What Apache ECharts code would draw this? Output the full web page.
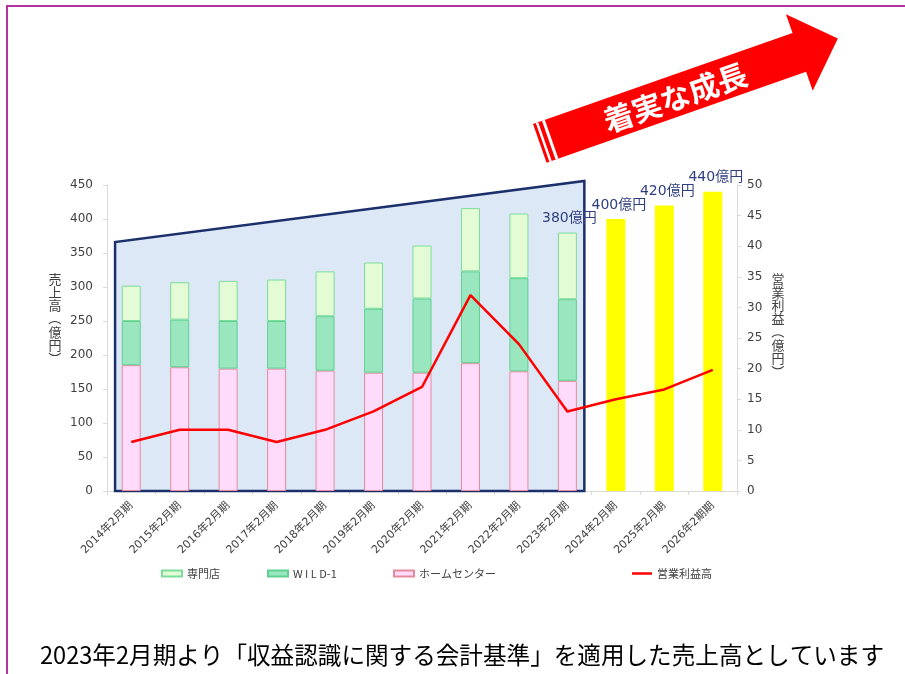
<!DOCTYPE html>
<html>
<head>
<meta charset="utf-8">
<script src="https://cdn.jsdelivr.net/npm/echarts@6/dist/echarts.min.js"></script>
<style>
  html, body { margin: 0; padding: 0; background: #fff; }
  #main { width: 905px; height: 674px; }
</style>
</head>
<body>
<div id="main"></div>
<script>
// 期
var categories = ['2014年2月期', '2015年2月期', '2016年2月期', '2017年2月期', '2018年2月期',
  '2019年2月期', '2020年2月期', '2021年2月期', '2022年2月期', '2023年2月期',
  '2024年2月期', '2025年2月期', '2026年2期期'];
// 売上高 内訳（億円）
var homeCenter = [185, 182, 180, 180, 177, 174, 174, 188, 176, 162, '-', '-', '-'];
var wild1 = [65, 70, 70, 70, 80, 94, 109, 135, 137, 120, '-', '-', '-'];
var senmon = [52, 55, 59, 61, 66, 68, 78, 93, 95, 98, '-', '-', '-'];
// 計画
var forecast = ['-', '-', '-', '-', '-', '-', '-', '-', '-', '-', 400, 420, 440];
// 営業利益（億円）
var profit = [8, 10, 10, 8, 10, 13, 17, 32, 24, 13, 15, 16.6, 19.8];
var leftTicks = { min: 0, max: 450, interval: 50 };
var rightTicks = { min: 0, max: 50, interval: 5 };
var lastActual = 9; // 2023年2月期
// 背景の台形（売上高の値）
var bandLeftValue = 366;
var bandRightValue = 456;

var chart = echarts.init(document.getElementById('main'));
var numFont = '"DejaVu Sans", "Noto Sans CJK JP", sans-serif';
var jpFont = '"Noto Sans CJK JP", sans-serif';
var txtColor = '#404040';
var labelColor = '#2f3e7e';

var senmonData = senmon.map(function (v, i) {
  if (i !== lastActual) return v;
  return {
    value: v,
    label: {
      show: true, position: 'top', distance: 7, offset: [2, 0],
      color: labelColor, fontSize: 14, fontFamily: numFont,
      formatter: function (p) {
        var i = p.dataIndex;
        return (homeCenter[i] + wild1[i] + senmon[i]) + '億円';
      }
    }
  };
});

function legendAt(name, left, h) {
  return {
    data: [{ name: name, icon: 'rect' }], left: left, top: 563,
    itemWidth: 20, itemHeight: h, itemGap: 4,
    textStyle: { fontSize: 11, color: txtColor, fontFamily: jpFont }
  };
}

var axisGray = '#d9d9d9';

chart.setOption({
  animation: false,
  grid: { left: 107, right: 168, top: 185, bottom: 183 },
  legend: [
    legendAt('専門店', 156, 6),
    legendAt('W I L D-1', 262, 6),
    legendAt('ホームセンター', 388, 6),
    legendAt('営業利益高', 627, 2.5)
  ],
  xAxis: {
    type: 'category',
    data: categories,
    axisLine: { lineStyle: { color: axisGray, width: 1 } },
    axisTick: { show: true, length: 4, lineStyle: { color: axisGray } },
    axisLabel: { rotate: 45, interval: 0, fontSize: 11, color: txtColor, fontFamily: numFont, margin: 13 }
  },
  yAxis: [{
    type: 'value',
    min: leftTicks.min, max: leftTicks.max, interval: leftTicks.interval,
    splitLine: { show: false },
    axisLine: { show: true, lineStyle: { color: axisGray } },
    axisTick: { show: true, length: 4, lineStyle: { color: axisGray } },
    axisLabel: { fontSize: 12, color: txtColor, fontFamily: numFont, margin: 14 }
  }, {
    type: 'value',
    min: rightTicks.min, max: rightTicks.max, interval: rightTicks.interval,
    splitLine: { show: false },
    axisLine: { show: true, lineStyle: { color: axisGray } },
    axisTick: { show: true, length: 4, lineStyle: { color: axisGray } },
    axisLabel: { fontSize: 12, color: txtColor, fontFamily: numFont, margin: 10 }
  }],
  series: [{
    name: 'ホームセンター', type: 'bar', stack: 'sales', barWidth: 19, z: 3,
    data: homeCenter,
    itemStyle: { color: '#ffdbfb', borderColor: '#e58a9c', borderWidth: 1 }
  }, {
    name: 'W I L D-1', type: 'bar', stack: 'sales', z: 3,
    data: wild1,
    itemStyle: { color: '#9ae6bf', borderColor: '#5fd08f', borderWidth: 1 }
  }, {
    name: '専門店', type: 'bar', stack: 'sales', z: 3,
    data: senmonData,
    itemStyle: { color: '#e3fcd5', borderColor: '#7bdc9b', borderWidth: 1 }
  }, {
    name: '計画', type: 'bar', stack: 'sales', z: 3,
    data: forecast,
    itemStyle: { color: '#ffff00' },
    label: {
      show: true, position: 'top', distance: 7, offset: [3, 0],
      color: labelColor, fontSize: 14, fontFamily: numFont,
      formatter: '{c}億円'
    }
  }, {
    name: '営業利益高', type: 'line', yAxisIndex: 1, z: 5,
    data: profit,
    symbol: 'none',
    lineStyle: { color: '#ff0000', width: 2.5 },
    itemStyle: { color: '#ff0000' }
  }]
});

// 背景の台形とその他の装飾
var cat0 = chart.convertToPixel({ xAxisIndex: 0, yAxisIndex: 0 }, [0, 0]);
var cat1 = chart.convertToPixel({ xAxisIndex: 0, yAxisIndex: 0 }, [1, 0]);
var catW = cat1[0] - cat0[0];
var pLeftTop = chart.convertToPixel({ xAxisIndex: 0, yAxisIndex: 0 }, [0, bandLeftValue]);
var pRightTop = chart.convertToPixel({ xAxisIndex: 0, yAxisIndex: 0 }, [lastActual, bandRightValue]);
var xL = cat0[0] - catW / 3;
var xR = pRightTop[0] + catW * 0.35;
var yB = cat0[1];

// 縦書きの軸名（1文字ずつ、括弧は回転）
function vText(str, x, top, step) {
  var children = str.split('').map(function (ch, k) {
    var paren = ch === '（' || ch === '）';
    return {
      type: 'text', x: 0, y: k * step + step / 2,
      rotation: paren ? -Math.PI / 2 : 0,
      style: {
        text: ch, fill: txtColor, font: '13px "Noto Sans CJK JP"',
        align: 'center', verticalAlign: 'middle', textAlign: 'center', textVerticalAlign: 'middle'
      }
    };
  });
  return { type: 'group', x: x, y: top, z: 10, children: children };
}

chart.setOption({
  graphic: [{
    type: 'polygon', z: 1,
    shape: { points: [[xL, yB], [xL, pLeftTop[1]], [xR, pRightTop[1]], [xR, yB]] },
    style: { fill: '#dde8f7', stroke: '#1b2f6b', lineWidth: 2.5 }
  }, {
    type: 'line', z: 10,
    shape: { x1: 7, y1: 6, x2: 905, y2: 6 },
    style: { stroke: '#b5339f', lineWidth: 2 }
  }, {
    type: 'line', z: 10,
    shape: { x1: 7, y1: 5, x2: 7, y2: 674 },
    style: { stroke: '#b5339f', lineWidth: 2 }
  },
  vText('売上高（億円）', 55, 272, 13.3),
  vText('営業利益（億円）', 778, 272, 13.3),
  {
    type: 'group', x: 533, y: 124, rotation: 19.3 * Math.PI / 180, z: 10,
    children: [{
      type: 'polygon',
      shape: { points: [[0, 0], [275, 0], [275, -20], [316, 20], [275, 61], [275, 41], [0, 41]] },
      style: { fill: '#ff0000' }
    }, {
      type: 'rect', shape: { x: 3, y: 0, width: 2.5, height: 41 }, style: { fill: '#ffffff' }
    }, {
      type: 'rect', shape: { x: 9.5, y: 0, width: 3, height: 41 }, style: { fill: '#ffffff' }
    }, {
      type: 'text', x: 143, y: 22,
      style: {
        text: '着実な成長', fill: '#ffffff', font: 'bold 30px "Noto Sans CJK JP"',
        align: 'center', verticalAlign: 'middle', textAlign: 'center', textVerticalAlign: 'middle'
      }
    }]
  }, {
    type: 'text', x: 462, y: 655, z: 10,
    style: {
      text: '2023年2月期より「収益認識に関する会計基準」を適用した売上高としています',
      fill: '#000000', font: '23.6px "Noto Sans CJK JP"',
      align: 'center', verticalAlign: 'middle', textAlign: 'center', textVerticalAlign: 'middle'
    }
  }]
});
</script>
</body>
</html>
